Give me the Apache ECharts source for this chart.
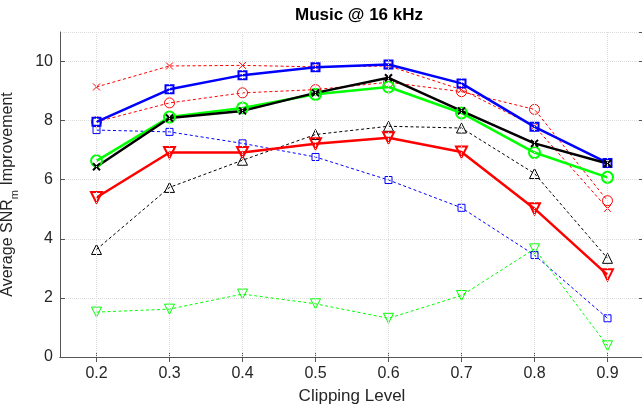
<!DOCTYPE html>
<html>
<head>
<meta charset="utf-8">
<script src="https://cdn.jsdelivr.net/npm/echarts@6/dist/echarts.min.js"></script>
<style>
html,body{margin:0;padding:0;background:#fff;}
#chart{width:642px;height:407px;}
</style>
</head>
<body>
<div id="chart"></div>
<script>
// ---- Data ----
const clippingLevels = [0.2, 0.3, 0.4, 0.5, 0.6, 0.7, 0.8, 0.9];

// dashed (thin) series
const redXDashed      = [9.14, 9.85, 9.87, 9.82, 9.85, 9.05, 7.81, 5.03];
const redCircleDashed = [7.96, 8.60, 8.94, 9.05, 9.30, 8.98, 8.38, 5.29];
const blueSquareDashed= [7.68, 7.62, 7.23, 6.77, 5.99, 5.05, 3.45, 1.31];
const blackTriDashed  = [3.64, 5.74, 6.66, 7.53, 7.81, 7.75, 6.21, 3.34];
const greenDownDashed = [1.52, 1.62, 2.13, 1.80, 1.31, 2.08, 3.66, 0.38];

// solid (thick) series
const redDownSolid    = [5.40, 6.92, 6.92, 7.22, 7.42, 6.94, 5.02, 2.78];
const greenCircleSolid= [6.64, 8.12, 8.43, 8.89, 9.14, 8.26, 6.92, 6.08];
const blueSquareSolid = [7.96, 9.06, 9.54, 9.81, 9.90, 9.26, 7.79, 6.57];
const blackXSolid     = [6.44, 8.09, 8.33, 8.94, 9.45, 8.33, 7.23, 6.55];

const crossPath = 'path://M0,0L10,10M0,10L10,0';

function pairs(vals){ return clippingLevels.map((x,i)=>[x, vals[i]]); }

function mk(name, vals, color, symbol, size, solid, rotate){
  return {
    name: name,
    type: 'line',
    data: pairs(vals),
    symbol: symbol,
    symbolSize: size,
    symbolRotate: rotate || 0,
    showAllSymbol: true,
    z: solid ? 3 : 2,
    lineStyle: {color: color, width: solid ? 2.5 : 1, type: solid ? 'solid' : [3, 2.5]},
    itemStyle: {color: 'rgba(0,0,0,0)', borderColor: color, borderWidth: solid ? 2 : 1},
    emphasis: {disabled: true},
    animation: false
  };
}

const axisColor = '#555';
const labelColor = '#262626';
const font = 'Liberation Sans, Arial, Helvetica, sans-serif';

const chart = echarts.init(document.getElementById('chart'), null, {renderer: 'canvas'});
chart.setOption({
  backgroundColor: '#fff',
  animation: false,
  title: {
    text: 'Music @ 16 kHz',
    left: 354, top: 2, textAlign: 'center',
    textStyle: {fontFamily: font, fontSize: 17, fontWeight: 'bold', color: '#000'}
  },
  grid: {left: 60, top: 32, width: 584, height: 325, containLabel: false, outerBoundsMode: 'none'},
  xAxis: [{
    type: 'value', min: 0.15, max: 0.95, position: 'bottom',
    name: 'Clipping Level', nameLocation: 'middle', nameGap: 31,
    nameTextStyle: {fontFamily: font, fontSize: 17, color: labelColor},
    axisLine: {show: true, lineStyle: {color: axisColor, width: 1}},
    axisTick: {show: true, inside: true, length: 5, customValues: clippingLevels, lineStyle: {color: axisColor}},
    axisLabel: {customValues: clippingLevels, fontFamily: font, fontSize: 16, color: labelColor, margin: 9,
      formatter: v => v.toFixed(1)},
    splitLine: {show: false}
  },{
    type: 'value', min: 0.15, max: 0.95, position: 'top',
    axisLine: {show: true, lineStyle: {color: axisColor, width: 1}},
    axisTick: {show: true, inside: true, length: 5, customValues: clippingLevels, lineStyle: {color: axisColor}},
    axisLabel: {show: false},
    splitLine: {show: false}
  }],
  yAxis: [{
    type: 'value', min: 0, max: 11, interval: 2, position: 'left',
    name: 'Average SNR{sub|m} Improvement', nameLocation: 'middle', nameGap: 40,
    nameTextStyle: {fontFamily: font, fontSize: 16, color: labelColor, lineHeight: 24,
      rich: {sub: {fontFamily: font, fontSize: 11, color: labelColor, lineHeight: 25, verticalAlign: 'bottom'}}},
    axisLine: {show: true, lineStyle: {color: axisColor, width: 1}},
    axisTick: {show: true, inside: true, length: 5, lineStyle: {color: axisColor}},
    axisLabel: {fontFamily: font, fontSize: 16, color: labelColor, margin: 7, showMaxLabel: false},
    splitLine: {show: true, lineStyle: {color: '#dcdcdc', type: 'dotted', width: 1}}
  },{
    type: 'value', min: 0, max: 11, interval: 2, position: 'right',
    axisLine: {show: true, lineStyle: {color: axisColor, width: 1}},
    axisTick: {show: true, inside: true, length: 5, lineStyle: {color: axisColor}},
    axisLabel: {show: false},
    splitLine: {show: false}
  }],
  series: [
    {
      type: 'line', data: [], xAxisIndex: 0, yAxisIndex: 0, silent: true,
      markLine: {silent: true, symbol: 'none', label: {show: false}, animation: false,
        lineStyle: {color: '#dcdcdc', type: 'dotted', width: 1},
        data: clippingLevels.map(x => ({xAxis: x}))}
    },
    mk('red x dashed', redXDashed, '#ff0000', crossPath, 7, false),
    mk('red o dashed', redCircleDashed, '#ff0000', 'circle', 10, false),
    mk('blue sq dashed', blueSquareDashed, '#0000ff', 'rect', 7, false),
    mk('black tri dashed', blackTriDashed, '#000000', 'triangle', 10, false),
    mk('green tri dashed', greenDownDashed, '#00ff00', 'triangle', 10, false, 180),
    mk('red solid', redDownSolid, '#ff0000', 'triangle', 11, true, 180),
    mk('green solid', greenCircleSolid, '#00ff00', 'circle', 11, true),
    mk('blue solid', blueSquareSolid, '#0000ff', 'rect', 8, true),
    mk('black solid', blackXSolid, '#000000', crossPath, 7, true)
  ]
});
</script>
</body>
</html>
